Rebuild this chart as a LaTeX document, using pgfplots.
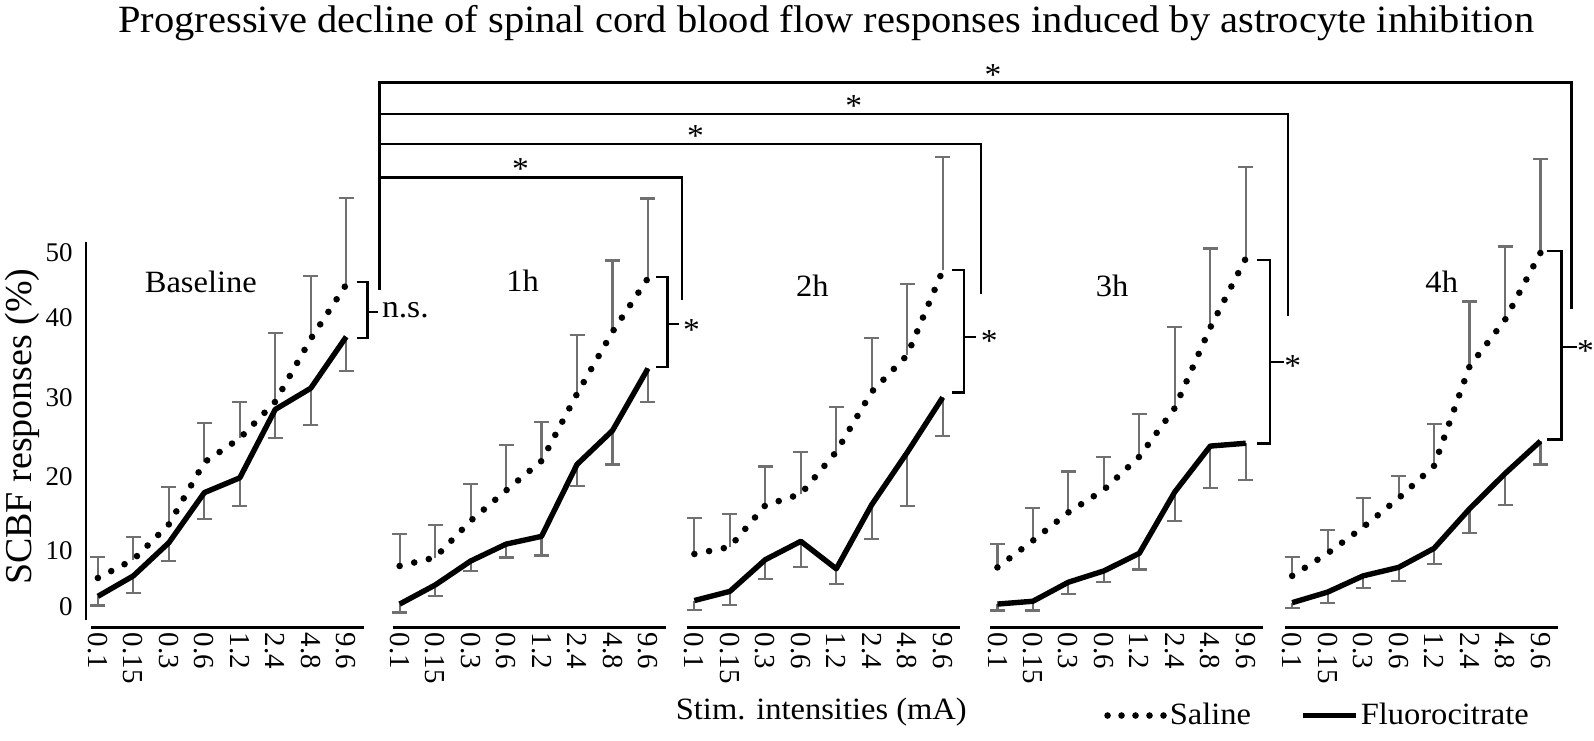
\documentclass[border=0pt]{standalone}
\usepackage{fontspec}
\setmainfont{Liberation Serif}
\newfontfamily\st{Liberation Serif}[FakeStretch=1.05]
\usepackage{pgfplots}
\usepackage{pgfplotstable}
\pgfplotsset{compat=1.18}
\definecolor{errgray}{RGB}{112,112,112}

\pgfplotstableread{
x s sp f fm
0 3.9 3.0 1.3 1.3
1 6.5 3.2 4.2 2.4
2 11.5 5.3 8.9 2.6
3 20.3 5.6 16.0 3.7
4 23.7 5.1 18.1 4.0
5 28.9 9.7 27.8 4.0
6 37.8 8.9 30.8 5.2
7 45.5 12.3 38.1 4.8
}\tBase
\pgfplotstableread{
x s sp f fm
0 5.6 4.5 0.2 1.2
1 6.8 4.6 2.9 1.5
2 12.0 5.2 6.3 1.4
3 16.3 6.4 8.7 1.9
4 20.5 5.5 9.8 2.7
5 30.0 8.4 20.0 3.1
6 38.8 10.1 24.8 4.8
7 46.4 11.3 33.6 4.8
}\tOne
\pgfplotstableread{
x s sp f fm
0 7.3 5.1 0.7 1.3
1 8.3 4.7 2.0 1.9
2 14.2 5.5 6.5 2.7
3 15.8 6.0 9.1 3.6
4 21.8 6.3 5.2 2.1
5 30.3 7.6 14.3 4.9
6 35.5 10.1 21.7 7.6
7 47.5 16.1 29.5 5.5
}\tTwo
\pgfplotstableread{
x s sp f fm
0 5.4 3.3 0.2 0.9
1 9.2 4.6 0.6 1.3
2 13.2 5.8 3.3 1.7
3 16.4 4.6 4.9 1.6
4 21.1 6.1 7.4 2.3
5 28.0 11.5 16.1 4.1
6 39.4 11.2 22.6 5.9
7 49.2 13.0 23.0 5.2
}\tThree
\pgfplotstableread{
x s sp f fm
0 4.2 2.7 0.4 0.7
1 7.4 3.3 1.9 1.6
2 11.1 4.1 4.2 1.7
3 15.2 3.2 5.4 1.9
4 19.8 5.9 8.1 2.2
5 33.9 9.2 13.7 3.4
6 40.5 10.4 18.7 4.5
7 50.0 13.3 23.3 3.3
}\tFour

\pgfplotsset{
  panel/.style={anchor=south west, width=136.7pt, height=193pt, scale only axis,
    xmin=-0.2, xmax=7.5, ymin=-3.116, ymax=51.56, clip=false,
    axis line style={draw=none}, major tick length=0pt,
    xtick={0,...,7}, xticklabels={0.1,0.15,0.3,0.6,1.2,2.4,4.8,9.6},
    xticklabel style={rotate=-90, anchor=west, inner sep=2.5pt, font=\fontsize{14.5}{14.5}\selectfont},
    ytick=\empty},
  sal/.style={black, line width=3.3pt, line cap=round, dash pattern=on 0pt off 7.5pt, no marks},
  flu/.style={black, line width=2.7pt, line join=round, no marks},
  salleg/.style={legend image code/.code={\path[draw=none] (0pt,6pt) (0pt,-6pt);
      \draw[##1, dash pattern=on 0pt off 7pt] (0pt,0pt) -- (28.3pt,0pt);}},
  fluleg/.style={legend image code/.code={\path[draw=none] (0pt,6pt) (0pt,-6pt);
      \draw[##1] (0pt,0pt) -- (26.5pt,0pt);}},
  ebp/.style={draw=none, no marks, forget plot, error bars/.cd, y dir=plus, y explicit,
    error bar style={draw=errgray, line width=1.1pt, solid},
    error mark options={rotate=90, mark size=3.75pt, draw=errgray, line width=1.1pt, solid}},
  ebm/.style={draw=none, no marks, forget plot, error bars/.cd, y dir=minus, y explicit,
    error bar style={draw=errgray, line width=1.1pt, solid},
    error mark options={rotate=90, mark size=3.75pt, draw=errgray, line width=1.1pt, solid}},
}

\begin{document}
\begin{tikzpicture}
\begin{scope}[x=0.5pt,y=-0.5pt]
\useasboundingbox (0,0) rectangle (1594,741);
\end{scope}

% Baseline
\begin{axis}[panel, at={(45.45pt,-314pt)},
  ytick={-0.1,7.8,18.3,29.5,40.8,50}, yticklabels={0,10,20,30,40,50},
  yticklabel style={anchor=east, inner sep=0pt, xshift=-8.95pt, font=\fontsize{13.5}{13.5}\selectfont}]
\draw[line width=1.2pt] (rel axis cs:0,0) -- (rel axis cs:1,0);
\draw[line width=1.3pt] (axis cs:-0.337,-2.0) -- (axis cs:-0.337,51.56);
\addplot[ebp] table[x=x,y=s,y error plus=sp] {\tBase};
\addplot[ebm] table[x=x,y=f,y error minus=fm] {\tBase};
\addplot[sal] table[x=x,y=s] {\tBase};
\addplot[flu] table[x=x,y=f] {\tBase};
\end{axis}

% 1h
\begin{axis}[panel, at={(196.45pt,-314pt)}]
\draw[line width=1.2pt] (rel axis cs:0,0) -- (rel axis cs:1,0);
\addplot[ebp] table[x=x,y=s,y error plus=sp] {\tOne};
\addplot[ebm] table[x=x,y=f,y error minus=fm] {\tOne};
\addplot[sal] table[x=x,y=s] {\tOne};
\addplot[flu] table[x=x,y=f] {\tOne};
\end{axis}

% 2h
\begin{axis}[panel, at={(343.95pt,-314pt)}]
\draw[line width=1.2pt] (rel axis cs:0,0) -- (rel axis cs:1,0);
\addplot[ebp] table[x=x,y=s,y error plus=sp] {\tTwo};
\addplot[ebm] table[x=x,y=f,y error minus=fm] {\tTwo};
\addplot[sal] table[x=x,y=s] {\tTwo};
\addplot[flu] table[x=x,y=f] {\tTwo};
\end{axis}

% 3h
\begin{axis}[panel, at={(495.6pt,-314pt)},
  legend style={at={(axis cs:3.0,-15.6)}, anchor=west, draw=none, fill=none,
    inner sep=0pt, font=\st\fontsize{15.5}{15.5}\selectfont, nodes={inner sep=1.2pt}}]
\draw[line width=1.2pt] (rel axis cs:0,0) -- (rel axis cs:1,0);
\addplot[ebp] table[x=x,y=s,y error plus=sp] {\tThree};
\addplot[ebm] table[x=x,y=f,y error minus=fm] {\tThree};
\addplot[sal, salleg] table[x=x,y=s] {\tThree};
\addlegendentry{Saline}
\addplot[flu, forget plot] table[x=x,y=f] {\tThree};
\end{axis}

% 4h
\begin{axis}[panel, at={(643.1pt,-314pt)},
  legend style={at={(axis cs:0.21,-15.6)}, anchor=west, draw=none, fill=none,
    inner sep=0pt, font=\st\fontsize{15.5}{15.5}\selectfont, nodes={inner sep=1.2pt}}]
\draw[line width=1.2pt] (rel axis cs:0,0) -- (rel axis cs:1,0);
\addplot[ebp] table[x=x,y=s,y error plus=sp] {\tFour};
\addplot[ebm] table[x=x,y=f,y error minus=fm] {\tFour};
\addplot[sal, forget plot] table[x=x,y=s] {\tFour};
\addplot[flu, fluleg] table[x=x,y=f] {\tFour};
\addlegendentry{Fluorocitrate}
\end{axis}

\begin{scope}[x=0.5pt,y=-0.5pt]
\node[anchor=base, inner sep=0pt, font=\st\fontsize{19.3}{19.3}\selectfont] at (827,33)
  {Progressive decline of spinal cord blood flow responses induced by astrocyte inhibition};
\node[rotate=90, inner sep=0pt, font=\fontsize{19}{19}\selectfont] at (22,427) {SCBF responses (\%)};
\begin{scope}[every node/.style={anchor=base, inner sep=0pt, font=\st\fontsize{15.5}{15.5}\selectfont}]
\node at (201,293) {Baseline};
\node at (523,292) {1h};
\node at (813,297) {2h};
\node at (1113,297) {3h};
\node at (1443,293) {4h};
\end{scope}
\node[anchor=base, inner sep=0pt, font=\st\fontsize{15.5}{15.5}\selectfont] at (822,720) {Stim. intensities (mA)};
% comparison brackets
\begin{scope}[line width=1.2pt]
\draw (380,290) -- (380,82.7) -- (1573,82.7) -- (1573,309);
\draw (380,114) -- (1289,114) -- (1289,316);
\draw (380,144) -- (982,144) -- (982,294);
\draw (380,177.7) -- (682.8,177.7) -- (682.8,300.7);
\draw (357,282) -- (368,282) -- (368,338) -- (357,338);
\draw (368,312) -- (378,312);
\draw (657,277) -- (668,277) -- (668,367.5) -- (657,367.5);
\draw (668,324) -- (680,324);
\draw (953,270) -- (965,270) -- (965,393) -- (953,393);
\draw (965,337.5) -- (977,337.5);
\draw (1258,260) -- (1271,260) -- (1271,444) -- (1258,444);
\draw (1271,362.5) -- (1285,362.5);
\draw (1548,251) -- (1563,251) -- (1563,440) -- (1548,440);
\draw (1563,347) -- (1578,347);
\end{scope}
\begin{scope}[every node/.style={inner sep=0pt, font=\st\fontsize{16}{16}\selectfont}]
\node at (994,75.5) {*};
\node at (854.5,106.5) {*};
\node at (696,136.5) {*};
\node at (521,169) {*};
\node at (692,330) {*};
\node at (990,341) {*};
\node at (1294,366) {*};
\node at (1587,351) {*};
\node[anchor=base west] at (382,318) {n.s.};
\end{scope}
\end{scope}
\end{tikzpicture}
\end{document}
